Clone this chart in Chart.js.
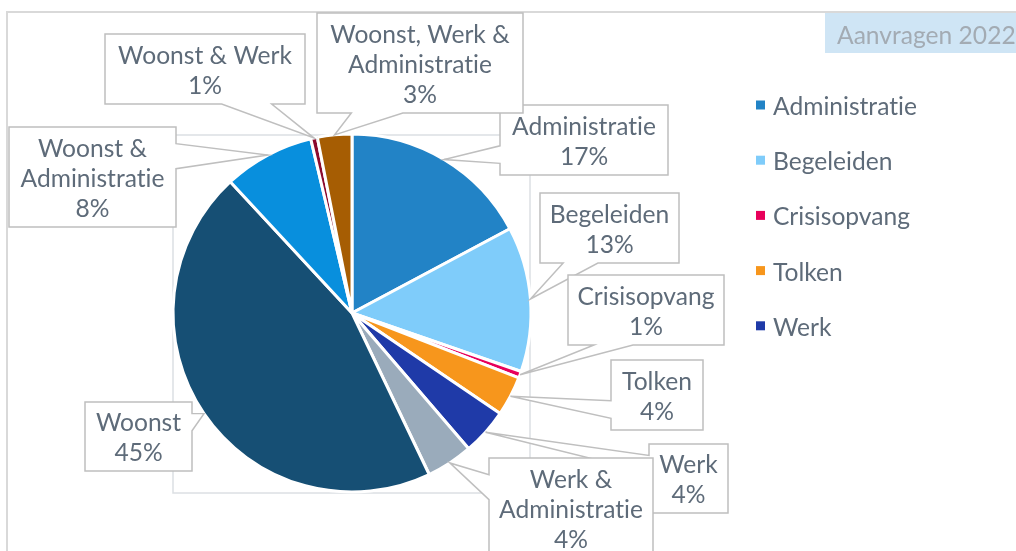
<!DOCTYPE html>
<html>
<head>
<meta charset="utf-8">
<title>Aanvragen 2022</title>
<script src="https://cdn.jsdelivr.net/npm/chart.js@4.4.0/dist/chart.umd.min.js"></script>
<style>
    html, body { margin: 0; padding: 0; background: #fff; }
    #wrap { width: 1016px; height: 551px; }
</style>
</head>
<body>
<div id="wrap"><canvas id="chart" width="1016" height="551"></canvas></div>
<script>
// share of requests per category (%)
const categories = ['Administratie', 'Begeleiden', 'Crisisopvang', 'Tolken', 'Werk',
    'Werk & Administratie', 'Woonst', 'Woonst & Administratie', 'Woonst & Werk',
    'Woonst, Werk & Administratie'];
const shares = [17.2, 13.1, 0.6, 3.6, 4.2, 4.2, 45.2, 8.2, 0.6, 3.1];
const sliceColors = ['#2283c6', '#7fccfa', '#e8005a', '#f7961c', '#1f3aa8',
    '#9aabbb', '#164f74', '#088fdd', '#8b0a2e', '#a65d03'];
// the excel legend only shows the first five entries
const legendCategories = categories.slice(0, 5);
const chartTitle = 'Aanvragen 2022';

const FONT = '24.6px Lato, "Open Sans", sans-serif';
const TEXT_COLOR = '#5e6b79';
const TEXT_NUDGE = 2; // lato sits a bit high with baseline "middle"

// callout boxes [left, top, width, height], placed by hand like the original
const calloutBoxes = [
    [500, 105, 168, 70],
    [540, 193, 139, 70],
    [568, 275, 156, 70],
    [611, 360, 92, 70],
    [649, 444, 79, 69],
    [489, 458, 164, 100],
    [85, 402, 107, 69],
    [9, 127, 167, 100],
    [105, 34, 200, 70],
    [317, 13, 206, 100]
];

// rectangle callout with a wedge, same geometry as the office "wedgeRectCallout" shape
function calloutPath(ctx, x, y, w, h, tx, ty) {
    const l = x, t = y, r = x + w, b = y + h;
    const dx = tx - (x + w / 2);
    const dy = ty - (y + h / 2);
    const dz = Math.abs(dy) - Math.abs(dx * h / w);
    const x1 = l + w * (dx > 0 ? 7 : 2) / 12;
    const x2 = l + w * (dx > 0 ? 10 : 5) / 12;
    const y1 = t + h * (dy > 0 ? 7 : 2) / 12;
    const y2 = t + h * (dy > 0 ? 10 : 5) / 12;
    let side;
    if (dz > 0) side = dy > 0 ? 'bottom' : 'top';
    else side = dx > 0 ? 'right' : 'left';

    ctx.beginPath();
    ctx.moveTo(l, t);
    if (side === 'top') { ctx.lineTo(x1, t); ctx.lineTo(tx, ty); ctx.lineTo(x2, t); }
    ctx.lineTo(r, t);
    if (side === 'right') { ctx.lineTo(r, y1); ctx.lineTo(tx, ty); ctx.lineTo(r, y2); }
    ctx.lineTo(r, b);
    if (side === 'bottom') { ctx.lineTo(x2, b); ctx.lineTo(tx, ty); ctx.lineTo(x1, b); }
    ctx.lineTo(l, b);
    if (side === 'left') { ctx.lineTo(l, y2); ctx.lineTo(tx, ty); ctx.lineTo(l, y1); }
    ctx.closePath();
}

function wrapText(ctx, text, maxWidth) {
    const words = text.split(' ');
    const lines = [];
    let line = '';
    words.forEach(word => {
        const test = line ? line + ' ' + word : word;
        if (line && ctx.measureText(test).width > maxWidth) {
            lines.push(line);
            line = word;
        } else {
            line = test;
        }
    });
    if (line) lines.push(line);
    return lines;
}

// no "ti" ligatures, the original doesn't use them
function plainText(ctx) {
    ctx.font = FONT;
    if ('textRendering' in ctx) ctx.textRendering = 'optimizeSpeed';
}

const framePlugin = {
    id: 'frame',
    beforeDraw(chart) {
        const { ctx, chartArea: a, width } = chart;
        ctx.save();
        // outer chart border
        ctx.strokeStyle = '#d9d9d9';
        ctx.lineWidth = 2;
        ctx.beginPath();
        ctx.moveTo(7, chart.height);
        ctx.lineTo(7, 12);
        ctx.lineTo(width, 12);
        ctx.stroke();

        // plot area
        ctx.strokeStyle = '#dcdfe3';
        ctx.lineWidth = 1.5;
        ctx.strokeRect(a.left - 1, a.top, a.width + 1, a.height + 2);

        // title
        ctx.fillStyle = '#cfe5f5';
        ctx.fillRect(825, 13, width - 825, 40);
        ctx.fillStyle = '#a3abb3';
        plainText(ctx);
        ctx.textAlign = 'left';
        ctx.textBaseline = 'middle';
        ctx.fillText(chartTitle, 837, 34 + TEXT_NUDGE);
        ctx.restore();
    }
};

const calloutPlugin = {
    id: 'callouts',
    afterDatasetsDraw(chart) {
        const { ctx } = chart;
        const meta = chart.getDatasetMeta(0);
        const total = shares.reduce((s, v) => s + v, 0);
        const lineHeight = 30;
        ctx.save();
        plainText(ctx);
        meta.data.forEach((arc, i) => {
            const box = calloutBoxes[i];
            if (!box) return;
            const { x, y, startAngle, endAngle, outerRadius } =
                arc.getProps(['x', 'y', 'startAngle', 'endAngle', 'outerRadius'], true);
            const mid = (startAngle + endAngle) / 2;
            const tx = x + Math.cos(mid) * outerRadius;
            const ty = y + Math.sin(mid) * outerRadius;
            const [bx, by, bw, bh] = box;

            calloutPath(ctx, bx, by, bw, bh, tx, ty);
            ctx.fillStyle = '#fff';
            ctx.fill();
            ctx.strokeStyle = '#bfbfbf';
            ctx.lineWidth = 1.5;
            ctx.stroke();

            const lines = wrapText(ctx, chart.data.labels[i], bw - 8);
            lines.push(Math.round(shares[i] / total * 100) + '%');
            ctx.fillStyle = TEXT_COLOR;
            ctx.textAlign = 'center';
            ctx.textBaseline = 'middle';
            const startY = by + bh / 2 - (lines.length - 1) * lineHeight / 2 + TEXT_NUDGE;
            lines.forEach((ln, j) => ctx.fillText(ln, bx + bw / 2, startY + j * lineHeight));
        });
        ctx.restore();
    }
};

const legendPlugin = {
    id: 'sideLegend',
    afterDraw(chart) {
        const { ctx } = chart;
        ctx.save();
        plainText(ctx);
        ctx.textAlign = 'left';
        ctx.textBaseline = 'middle';
        legendCategories.forEach((name, i) => {
            const cy = 105 + i * 55.2;
            ctx.fillStyle = sliceColors[i];
            ctx.fillRect(756, cy - 4.5, 9, 9);
            ctx.fillStyle = TEXT_COLOR;
            ctx.fillText(name, 773, cy + TEXT_NUDGE);
        });
        ctx.restore();
    }
};

function drawChart() {
    new Chart(document.getElementById('chart'), {
        type: 'pie',
        data: {
            labels: categories,
            datasets: [{
                data: shares,
                backgroundColor: sliceColors,
                borderColor: '#ffffff',
                borderWidth: 3,
                radius: 179
            }]
        },
        options: {
            responsive: false,
            animation: false,
            layout: { padding: { left: 174, top: 135, right: 486, bottom: 60 } },
            plugins: {
                legend: { display: false },
                tooltip: { enabled: false }
            }
        },
        plugins: [framePlugin, calloutPlugin, legendPlugin]
    });
}

if (document.fonts && document.fonts.load) {
    document.fonts.load(FONT).then(drawChart, drawChart);
} else {
    drawChart();
}
</script>
</body>
</html>
